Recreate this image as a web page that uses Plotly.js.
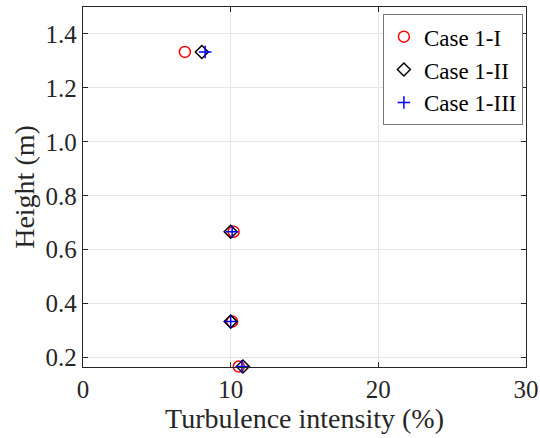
<!DOCTYPE html>
<html><head><meta charset="utf-8">
<script src="https://cdn.plot.ly/plotly-3.0.1.min.js"></script>
<style>html,body{margin:0;padding:0;background:#fff;}#chart{width:540px;height:438px;}</style>
</head><body><div id="chart"></div>
<script>
const heights = [1.3333, 0.6667, 0.3333, 0.1667];
const case1I   = [6.9, 10.2, 10.1, 10.55];
const case1II  = [8.05, 10.0, 10.0, 10.83];
const case1III = [8.27, 10.1, 10.0, 10.76];
const seriesNames = ['Case 1-I', 'Case 1-II', 'Case 1-III'];
const xTicks = [0, 10, 20, 30];
const yTicks = [0.2, 0.4, 0.6, 0.8, 1.0, 1.2, 1.4];
const yTickText = ['0.2', '0.4', '0.6', '0.8', '1.0', '1.2', '1.4'];

const font = 'Liberation Serif';
const traces = [
  {x: case1I, y: heights, name: seriesNames[0], mode: 'markers', type: 'scatter', cliponaxis: false,
   marker: {symbol: 'circle-open', size: 11, color: '#ff0000', line: {width: 1.5}}},
  {x: case1II, y: heights, name: seriesNames[1], mode: 'markers', type: 'scatter', cliponaxis: false,
   marker: {symbol: 'diamond-open', size: 10, color: '#000000', line: {width: 1.5}}},
  {x: case1III, y: heights, name: seriesNames[2], mode: 'markers', type: 'scatter', cliponaxis: false,
   marker: {symbol: 'cross-thin-open', size: 9, color: '#0000ff', line: {width: 1.5, color: '#0000ff'}}}
];
const layout = {
  width: 540, height: 438,
  margin: {l: 83, r: 14, t: 7, b: 71},
  paper_bgcolor: '#fff', plot_bgcolor: '#fff',
  font: {family: font, color: '#262626'},
  showlegend: true,
  legend: {x: 0.993, y: 0.98, xanchor: 'right', yanchor: 'top', bgcolor: '#fff',
           bordercolor: '#777', borderwidth: 1, font: {family: font, size: 23, color: '#000'},
           tracegroupgap: 0, itemwidth: 30},
  xaxis: {range: [0, 30], tickmode: 'array', tickvals: xTicks, ticktext: xTicks.map(String),
          ticks: 'inside', ticklen: 5, tickcolor: '#262626', mirror: 'ticks',
          showline: true, linecolor: '#262626', linewidth: 1.2,
          showgrid: true, gridcolor: '#e6e6e6', zeroline: false,
          tickfont: {family: font, size: 25, color: '#262626'},
          title: {text: 'Turbulence intensity (%)', font: {family: font, size: 28, color: '#262626'}, standoff: 6}},
  yaxis: {range: [0.165, 1.5], tickmode: 'array', tickvals: yTicks, ticktext: yTickText,
          ticks: 'inside', ticklen: 5, tickcolor: '#262626', mirror: 'ticks',
          showline: true, linecolor: '#262626', linewidth: 1.2,
          showgrid: true, gridcolor: '#e6e6e6', zeroline: false,
          tickfont: {family: font, size: 25, color: '#262626'},
          title: {text: 'Height (m)', font: {family: font, size: 28, color: '#262626'}, standoff: 2}}
};
Plotly.newPlot('chart', traces, layout, {displayModeBar: false, staticPlot: true});
</script></body></html>
